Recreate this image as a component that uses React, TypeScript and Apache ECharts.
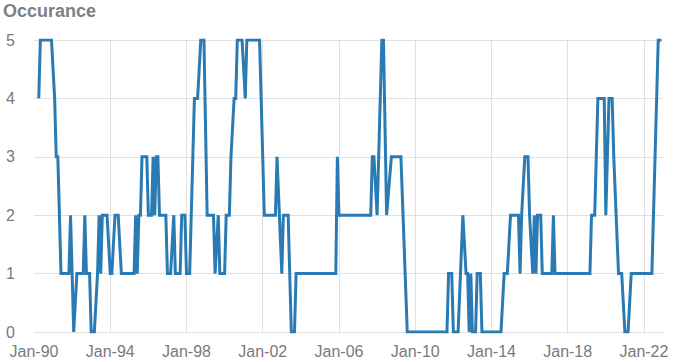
import React, { useEffect, useRef } from "react";
import * as echarts from "echarts";

// Corner points of the series (month, occurrence)
const pointDates: string[] = [
  "1990-04","1990-05","1990-12","1991-02","1991-03","1991-04","1991-06","1991-11","1991-12","1992-02",
  "1992-04","1992-08","1992-09","1992-10","1992-12","1993-01","1993-03","1993-05","1993-06","1993-07",
  "1993-08","1993-11","1994-01","1994-02","1994-04","1994-06","1994-08","1995-04","1995-05","1995-06",
  "1995-07","1995-08","1995-09","1995-12","1996-01","1996-03","1996-04","1996-05","1996-06","1996-07",
  "1996-08","1996-12","1997-01","1997-03","1997-05","1997-06","1997-09","1997-10","1997-12","1998-01",
  "1998-03","1998-04","1998-06","1998-08","1998-10","1998-12","1999-02","1999-06","1999-07","1999-09",
  "1999-10","2000-01","2000-02","2000-04","2000-05","2000-07","2000-08","2000-09","2000-12","2001-02",
  "2001-03","2001-11","2002-02","2002-09","2002-10","2003-01","2003-02","2003-05","2003-07","2003-09",
  "2003-10","2005-11","2005-12","2006-01","2007-09","2007-10","2007-11","2008-01","2008-02","2008-04",
  "2008-05","2008-07","2008-10","2009-04","2009-08","2011-09","2011-10","2011-12","2012-01","2012-04",
  "2012-07","2012-09","2012-10","2012-11","2012-12","2013-01","2013-03","2013-04","2013-06","2013-07",
  "2014-07","2014-09","2014-11","2015-01","2015-06","2015-07","2015-08","2015-10","2015-12","2016-01",
  "2016-03","2016-04","2016-05","2016-06","2016-08","2016-09","2017-03","2017-04","2017-05","2019-03",
  "2019-04","2019-06","2019-08","2019-12","2020-01","2020-03","2020-05","2020-06","2020-09","2020-11",
  "2021-01","2021-03","2021-05","2022-06","2022-08","2022-10","2022-12",
];
const pointValues: number[] = [
  4,5,5,4,3,3,1,1,2,0,
  1,1,2,1,1,0,0,1,2,1,
  2,2,1,1,2,2,1,1,2,1,
  2,2,3,3,2,2,3,2,3,3,
  2,2,1,1,2,1,1,2,2,1,
  1,2,4,4,5,5,2,2,1,2,
  1,1,2,2,3,4,4,5,5,4,
  5,5,2,2,3,1,2,2,0,0,
  1,1,3,2,2,3,3,2,3,5,
  5,2,3,3,0,0,1,1,0,0,
  2,1,1,0,1,0,0,1,1,0,
  0,1,1,2,2,1,2,3,3,2,
  1,2,1,2,2,1,1,2,1,1,
  2,2,4,4,2,4,4,3,1,1,
  0,0,1,1,3,5,5,
];

const startYear = 1990;
const axisMinMonth = 0;   // Jan-90
const axisMaxMonth = 396; // Jan-23
const tickMonths = 48;    // every 4 years
const yTicks: number[] = [0, 1, 2, 3, 4, 5];
const titleText = "Occurance";

const monthIndex = (d: string) => {
  const [y, m] = d.split("-").map(Number);
  return (y - startYear) * 12 + (m - 1);
};

const FONT = "Liberation Sans, Arial, sans-serif";

export default function App() {
  const ref = useRef<HTMLDivElement>(null);
  useEffect(() => {
    if (!ref.current) return;
    const chart = echarts.init(ref.current, undefined, { renderer: "svg" });
    const data = pointDates.map((d, i) => [monthIndex(d), pointValues[i]]);
    chart.setOption({
      animation: false,
      backgroundColor: "#ffffff",
      textStyle: { fontFamily: FONT },
      title: {
        text: titleText,
        left: -2,
        top: -3,
        textStyle: { fontSize: 18, fontWeight: "bold", color: "#7f7f7f", fontFamily: FONT },
      },
      grid: { left: 34, right: 14, top: 40, bottom: 30, containLabel: false },
      xAxis: {
        type: "value",
        min: axisMinMonth,
        max: axisMaxMonth,
        interval: tickMonths,
        axisLine: { show: false },
        axisTick: { show: false },
        splitLine: { show: true, showMinLine: false, showMaxLine: false, lineStyle: { color: "#e0e0e0", width: 1 } },
        axisLabel: {
          color: "#7a7a7a",
          fontSize: 16,
          margin: 11,
          showMaxLabel: false,
          fontFamily: FONT,
          formatter: (v: number) => {
            if (v % 12 !== 0) return "";
            const y = startYear + v / 12;
            return "Jan-" + String(y % 100).padStart(2, "0");
          },
        },
      },
      yAxis: {
        type: "value",
        min: yTicks[0],
        max: yTicks[yTicks.length - 1],
        interval: 1,
        axisLine: { show: false },
        axisTick: { show: false },
        splitLine: { show: true, lineStyle: { color: "#e0e0e0", width: 1 } },
        axisLabel: { color: "#7a7a7a", fontSize: 16, margin: 19, fontFamily: FONT },
      },
      series: [
        {
          type: "line",
          data,
          showSymbol: false,
          symbol: "none",
          lineStyle: { color: "#2a7ab3", width: 3, join: "miter" },
          itemStyle: { color: "#2a7ab3" },
        },
      ],
    });
    return () => chart.dispose();
  }, []);
  return <div ref={ref} style={{ width: 677, height: 362, position: "absolute", left: 0, top: 0 }} />;
}
